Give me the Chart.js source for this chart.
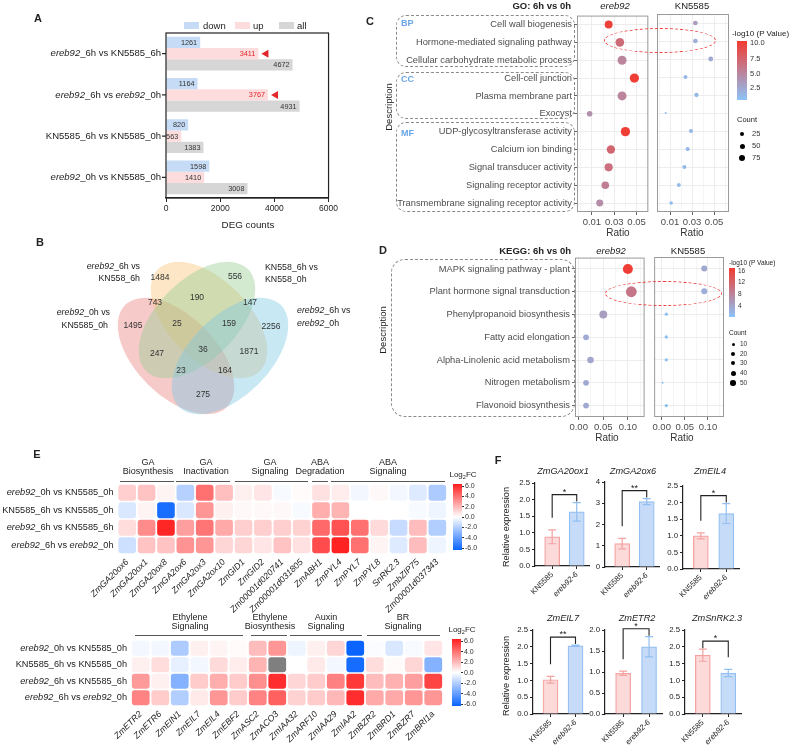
<!DOCTYPE html>
<html>
<head>
<meta charset="utf-8">
<script src="https://cdn.jsdelivr.net/npm/chart.js@4.4.1/dist/chart.umd.min.js"></script>
<style>
  body { margin: 0; background: #fff; }
  #fig { position: relative; width: 800px; height: 749px; overflow: hidden; background: #fff;
         font-family: "Liberation Sans", Arial, Helvetica, sans-serif; color: #222; }
  #fig canvas { position: absolute; }
  .t { position: absolute; white-space: nowrap; line-height: 1.05; }
  .b { font-weight: bold; }
</style>
</head>
<body>
<div id="fig"></div>
<script>
// ============================================
// DEG / GO / KEGG / heatmap / qPCR figure
// ============================================

// ---- A: DEG counts ----
const degComparisons = ["ereb92_6h vs KN5585_6h", "ereb92_6h vs ereb92_0h", "KN5585_6h vs KN5585_0h", "ereb92_0h vs KN5585_0h"];
const degDown = [1261, 1164, 820, 1598];
const degUp = [3411, 3767, 563, 1410];
const degAll = [4672, 4931, 1383, 3008];
const degMarked = [true, true, false, false];
const degTicks = [0, 2000, 4000, 6000];

// ---- B: Venn ----
const vennSets = ["ereb92_0h vs KN5585_0h", "ereb92_6h vs KN558_6h", "KN558_6h vs KN558_0h", "ereb92_6h vs ereb92_0h"];
const vennCounts = [1484, 556, 743, 190, 147, 1495, 25, 159, 2256, 247, 36, 1871, 23, 164, 275];

// ---- C: GO ----
const goTerms = ["Cell wall biogenesis", "Hormone-mediated signaling pathway", "Cellular carbohydrate metabolic process",
  "Cell-cell junction", "Plasma membrane part", "Exocyst", "UDP-glycosyltransferase activity", "Calcium ion binding",
  "Signal transducer activity", "Signaling receptor activity", "Transmembrane signaling receptor activity"];
const goRatioE = [0.025, 0.035, 0.037, 0.048, 0.037, 0.008, 0.040, 0.027, 0.025, 0.022, 0.017];
const goCountE = [59, 70, 75, 80, 75, 29, 80, 65, 62, 54, 45];
const goLogPE = [9.8, 6.8, 5.0, 10.0, 5.0, 4.2, 10.0, 7.2, 6.5, 5.5, 4.5];
const goRatioK = [0.033, 0.033, 0.047, 0.024, 0.034, 0.006, 0.029, 0.026, 0.023, 0.018, 0.011];
const goCountK = [20, 20, 22, 15, 17, 4, 16, 16, 15, 14, 12];
const goLogPK = [3.5, 2.2, 2.4, 1.3, 1.5, 1.0, 1.4, 1.4, 1.3, 1.2, 1.1];
const goTicks = [0, 0.01, 0.02, 0.03, 0.04, 0.05, 0.06];
const goTickLabels = ["", "0.01", "", "0.03", "", "0.05", ""];

// ---- D: KEGG ----
const keggTerms = ["MAPK signaling pathway - plant", "Plant hormone signal transduction", "Phenylpropanoid biosynthesis",
  "Fatty acid elongation", "Alpha-Linolenic acid metabolism", "Nitrogen metabolism", "Flavonoid biosynthesis"];
const keggRatioE = [0.100, 0.107, 0.050, 0.015, 0.024, 0.015, 0.015];
const keggCountE = [45, 52, 28, 15, 19, 15, 15];
const keggLogPE = [16.5, 10.0, 5.5, 4.0, 4.5, 4.0, 4.0];
const keggRatioK = [0.092, 0.092, 0.010, 0.010, 0.010, 0.002, 0.010];
const keggCountK = [16, 16, 5, 5, 5, 2, 5];
const keggLogPK = [4.3, 3.5, 1.5, 1.5, 1.5, 1.3, 1.5];
const keggTicks = [0, 0.025, 0.05, 0.075, 0.10, 0.125];
const keggTickLabels = ["0.00", "", "0.05", "", "0.10", ""];

// ---- E: heatmaps (log2FC) ----
const heatRows = ["ereb92_0h vs KN5585_0h", "KN5585_6h vs KN5585_0h", "ereb92_6h vs KN5585_6h", "ereb92_6h vs ereb92_0h"];
const genesTop = ["ZmGA20ox6", "ZmGA20ox1", "ZmGA20ox8", "ZmGA2ox6", "ZmGA2ox3", "ZmGA2ox10", "ZmGID1", "ZmGID2",
  "Zm00001d020741", "Zm00001d031805", "ZmABH1", "ZmPYL4", "ZmPYL7", "ZmPYL8", "SnRK2.3", "ZmbZIP75", "Zm00001d037343"];
const fcTop = [
  [1.3, 1.6, 0.3, -1.8, 3.8, 1.7, 0.4, 0.7, -0.2, 0.1, 0.8, 0.5, -0.3, 0.2, -0.3, -0.8, -2.0],
  [-0.9, 0.3, -5.6, -0.9, 2.8, 0.4, 0.2, 0.2, 0.2, -0.2, 2.2, 2.0, 0.0, 0.0, 0.0, -0.2, -0.4],
  [0.9, 3.1, 5.8, 2.6, 3.7, 2.3, 1.3, 1.3, 1.3, 1.2, 4.0, 4.6, 3.8, 1.0, -1.4, 1.8, -1.9],
  [-1.2, 1.6, 1.6, 2.9, 2.8, 1.1, 1.1, 0.7, 1.6, 0.8, 4.8, 5.9, 3.8, 0.3, -0.8, 1.8, -0.4]
];
const genesBottom = ["ZmETR2", "ZmETR6", "ZmEIN1", "ZmEIL7", "ZmEIL4", "ZmEBF2", "ZmASC2", "ZmACO3",
  "ZmIAA32", "ZmARF10", "ZmIAA29", "ZmIAA2", "ZmBZR2", "ZmBRD1", "ZmBZR7", "ZmBRI1a"];
const fcBottom = [
  [-0.3, -0.3, -2.0, 0.4, 0.3, 0.1, 1.8, 2.8, -0.4, 0.4, 1.1, -6.0, -0.1, -0.9, -0.2, 0.7],
  [0.4, 0.9, -0.6, -0.3, 1.0, 0.5, 2.0, null, 0.0, 0.6, -0.3, -5.7, 0.9, 0.1, 1.1, -3.0],
  [2.7, 0.4, -3.0, 1.4, 2.2, 1.4, 3.0, 5.6, 1.1, 1.4, 3.4, 5.3, 1.8, 2.1, 2.6, 5.0],
  [3.3, 1.4, -1.9, 0.6, 2.8, 1.4, 3.3, 4.2, 1.2, 1.4, 1.9, 5.6, 2.3, 2.3, 2.8, 2.8]
];
const fcTicks = [6, 4, 2, 0, -2, -4, -6];

// ---- F: qPCR ----
const qGenes = ["ZmGA20ox1", "ZmGA2ox6", "ZmEIL4", "ZmEIL7", "ZmETR2", "ZmSnRK2.3"];
const qGroups = ["KN5585", "ereb92-6"];
const qMeanKN = [0.88, 1.10, 1.00, 1.02, 0.97, 1.75];
const qSdKN = [0.21, 0.25, 0.09, 0.10, 0.05, 0.18];
const qMeanEr = [1.63, 3.08, 1.67, 2.03, 1.60, 1.22];
const qSdEr = [0.28, 0.14, 0.30, 0.02, 0.24, 0.11];
const qSig = ["*", "**", "*", "**", "*", "*"];
const qYMax = [2.5, 4, 2.5, 2.5, 2.0, 2.5];
const qYStep = [0.5, 1, 0.5, 0.5, 0.5, 0.5];

// ============================================
const FONT = '"Liberation Sans", Arial, Helvetica, sans-serif';
const fig = document.getElementById("fig");

Chart.defaults.font.family = FONT;
Chart.defaults.color = "#222";
Chart.defaults.animation = false;
Chart.defaults.events = [];
Chart.defaults.responsive = false;
Chart.defaults.maintainAspectRatio = false;
Chart.defaults.plugins.legend.display = false;
Chart.defaults.plugins.tooltip.enabled = false;

// scales get a fixed size so the plot area lands exactly where it should
const fitW = (w) => (s) => { s.width = w; };
const fitH = (h) => (s) => { s.height = h; };
const it = (s) => s.replace(/ereb92/g, "<i>ereb92</i>");

function makeCanvas(left, top, w, h) {
    const c = document.createElement("canvas");
    c.width = w; c.height = h;
    c.style.left = left + "px"; c.style.top = top + "px";
    c.style.width = w + "px"; c.style.height = h + "px";
    fig.appendChild(c);
    return c;
}

function txt(html, x, y, size, o = {}) {
    const d = document.createElement("div");
    d.className = "t" + (o.bold ? " b" : "");
    d.innerHTML = html;
    const ax = { left: "0", right: "-100%", center: "-50%" }[o.align || "center"];
    d.style.left = x + "px";
    d.style.top = y + "px";
    d.style.fontSize = size + "px";
    d.style.transform = `translate(${ax},-50%)` + (o.rot ? ` rotate(${o.rot}deg)` : "");
    if (o.css) d.style.cssText += o.css;
    fig.appendChild(d);
}

function rect(x, y, w, h, css) {
    const d = document.createElement("div");
    d.style.cssText = `position:absolute;left:${x}px;top:${y}px;width:${w}px;height:${h}px;box-sizing:border-box;${css}`;
    fig.appendChild(d);
}

// text with italic "ereb92"
function mixedText(ctx, text, x, y, size, align) {
    const parts = text.split(/(ereb92)/).filter(Boolean);
    const fonts = parts.map((p) => (p === "ereb92" ? "italic " : "") + size + "px " + FONT);
    const widths = parts.map((p, i) => { ctx.font = fonts[i]; return ctx.measureText(p).width; });
    const total = widths.reduce((a, b) => a + b, 0);
    let cx = align === "right" ? x - total : align === "center" ? x - total / 2 : x;
    ctx.save();
    ctx.fillStyle = "#222"; ctx.textAlign = "left"; ctx.textBaseline = "middle";
    parts.forEach((p, i) => { ctx.font = fonts[i]; ctx.fillText(p, cx, y); cx += widths[i]; });
    ctx.restore();
}

function mix(a, b, t) {
    return `rgb(${a.map((v, i) => Math.round(v + (b[i] - v) * t)).join(",")})`;
}
const P_LOW = [140, 196, 248], P_HIGH = [242, 58, 48];
function pColor(v, lo, hi) {
    return mix(P_LOW, P_HIGH, Math.max(0, Math.min(1, (v - lo) / (hi - lo))));
}
function fcColor(v) {
    if (v === null) return "#7f7f7f";
    const t = Math.min(1, Math.abs(v) / 6);
    return v >= 0 ? mix([255, 255, 255], [255, 30, 30], t) : mix([255, 255, 255], [10, 100, 255], t);
}

// ---------------- A ----------------
const degDecor = {
    id: "degDecor",
    afterDatasetsDraw(chart) {
        const { ctx, chartArea: ca, scales: { y } } = chart;
        ctx.save();
        ctx.font = "7.3px " + FONT; ctx.textAlign = "right"; ctx.textBaseline = "middle";
        chart.data.datasets.forEach((ds, di) => {
            chart.getDatasetMeta(di).data.forEach((bar, i) => {
                const mark = di === 1 && degMarked[i];
                ctx.fillStyle = mark ? "#e3262b" : "#333";
                ctx.fillText(ds.data[i], bar.x - 3, bar.y + 0.5);
                if (mark) {
                    ctx.beginPath();
                    ctx.moveTo(bar.x + 3, bar.y);
                    ctx.lineTo(bar.x + 10, bar.y - 4);
                    ctx.lineTo(bar.x + 10, bar.y + 4);
                    ctx.closePath();
                    ctx.fill();
                }
            });
        });
        ctx.strokeStyle = "#222"; ctx.lineWidth = 1.2;
        ctx.strokeRect(ca.left, ca.top, ca.width, ca.height);
        degComparisons.forEach((lab, i) => {
            const py = y.getPixelForValue(i);
            ctx.beginPath(); ctx.moveTo(ca.left - 4, py); ctx.lineTo(ca.left, py); ctx.stroke();
            mixedText(ctx, lab, ca.left - 5, py, 9.5, "right");
        });
        ctx.restore();
    }
};

new Chart(makeCanvas(0, 0, 340, 240), {
    type: "bar",
    data: {
        labels: degComparisons,
        datasets: [
            { data: degDown, backgroundColor: "#c6dcf6" },
            { data: degUp, backgroundColor: "#fcdcdc" },
            { data: degAll, backgroundColor: "#d6d6d6" }
        ].map((d) => Object.assign(d, { categoryPercentage: 0.82, barPercentage: 1 }))
    },
    options: {
        indexAxis: "y",
        layout: { padding: { left: 0, right: 9, top: 33, bottom: 0 } },
        scales: {
            x: {
                min: 0, max: 6000, afterFit: fitH(42),
                afterBuildTicks: (s) => { s.ticks = degTicks.map((v) => ({ value: v })); },
                ticks: { font: { size: 8.5 }, padding: 2, maxRotation: 0, callback: (v) => String(v) },
                grid: { drawOnChartArea: false, tickLength: 4, color: "#222" },
                border: { color: "#222", width: 1.2 }
            },
            y: { afterFit: fitW(166), ticks: { display: false }, grid: { display: false }, border: { display: false } }
        }
    },
    plugins: [degDecor]
});

txt("A", 38, 19, 11, { bold: true });
rect(184, 22, 15, 7, "background:#c6dcf6");
txt("down", 203, 25.5, 9.5, { align: "left" });
rect(235, 22, 15, 7, "background:#fcdcdc");
txt("up", 253, 25.5, 9.5, { align: "left" });
rect(279, 22, 15, 7, "background:#d6d6d6");
txt("all", 297, 25.5, 9.5, { align: "left" });
txt("DEG counts", 248, 225, 9.8);

// ---------------- B ----------------
const vennShapes = {
    a: 72, b: 40,
    ellipses: [
        { cx: 176, cy: 356, rot: 45, fill: "rgba(232,128,124,0.42)" },
        { cx: 209, cy: 320, rot: 45, fill: "rgba(248,196,120,0.42)" },
        { cx: 197, cy: 320, rot: -45, fill: "rgba(150,205,145,0.42)" },
        { cx: 230, cy: 356, rot: -45, fill: "rgba(125,200,228,0.42)" }
    ],
    labelPos: [[160, 278], [235, 277], [155, 303], [197, 298], [250, 303], [133, 326], [177, 324], [229, 324],
        [271, 327], [157, 354], [203, 350], [249, 352], [181, 371], [225, 371], [203, 395]]
};

const vennPlugin = {
    id: "venn",
    beforeDatasetsDraw(chart) {
        const { ctx, scales: { x, y } } = chart;
        ctx.save();
        vennShapes.ellipses.forEach((e) => {
            const px = x.getPixelForValue(e.cx), py = y.getPixelForValue(e.cy);
            const rx = x.getPixelForValue(e.cx + vennShapes.a) - px;
            const ry = x.getPixelForValue(e.cx + vennShapes.b) - px;
            ctx.beginPath();
            ctx.ellipse(px, py, rx, ry, e.rot * Math.PI / 180, 0, Math.PI * 2);
            ctx.fillStyle = e.fill;
            ctx.fill();
        });
        ctx.restore();
    },
    afterDatasetsDraw(chart) {
        const { ctx } = chart;
        ctx.save();
        ctx.font = "8.5px " + FONT; ctx.fillStyle = "#333";
        ctx.textAlign = "center"; ctx.textBaseline = "middle";
        chart.getDatasetMeta(0).data.forEach((pt, i) => ctx.fillText(vennCounts[i], pt.x, pt.y));
        ctx.restore();
    }
};

new Chart(makeCanvas(0, 240, 345, 210), {
    type: "scatter",
    data: { datasets: [{ data: vennShapes.labelPos.map(([x, y]) => ({ x, y })), pointRadius: 0 }] },
    options: {
        layout: { padding: 0 },
        scales: {
            x: { display: false, min: 0, max: 345 },
            y: { display: false, min: 240, max: 450, reverse: true }
        }
    },
    plugins: [vennPlugin]
});

txt("B", 40, 243, 11, { bold: true });
txt(it("ereb92_6h vs"), 140, 267, 8.8, { align: "right" });
txt("KN558_6h", 140, 279, 8.8, { align: "right" });
txt("KN558_6h vs", 265, 268, 8.8, { align: "left" });
txt("KN558_0h", 265, 280, 8.8, { align: "left" });
txt(it("ereb92_0h vs"), 110, 313, 8.8, { align: "right" });
txt("KN5585_0h", 108, 326, 8.8, { align: "right" });
txt(it("ereb92_6h vs"), 297, 311, 8.8, { align: "left" });
txt(it("ereb92_0h"), 297, 324, 8.8, { align: "left" });

// ---------------- C / D dot plots ----------------
const panelBox = {
    id: "panelBox",
    afterDraw(chart) {
        const { ctx, chartArea: ca } = chart;
        ctx.save();
        ctx.strokeStyle = "#9a9a9a"; ctx.lineWidth = 1;
        ctx.strokeRect(ca.left + 0.5, ca.top + 0.5, ca.width - 1, ca.height - 1);
        ctx.restore();
    }
};

function dotPanel(o) {
    return new Chart(makeCanvas(o.left, o.top, o.w, o.h), {
        type: "bubble",
        data: {
            datasets: [{
                data: o.ratio.map((x, i) => ({ x, y: i + 1, r: Math.sqrt(o.count[i]) * o.rK })),
                backgroundColor: o.logp.map((v) => pColor(v, o.cLo, o.cHi)),
                borderWidth: 0
            }]
        },
        options: {
            layout: { padding: { left: 0, right: o.pad.right, top: o.pad.top, bottom: 0 } },
            scales: {
                x: {
                    type: "linear", min: o.xmin, max: o.xmax, afterFit: fitH(o.pad.bottom),
                    afterBuildTicks: (s) => { s.ticks = o.xTicks.map((v) => ({ value: v })); },
                    ticks: { callback: (v, i) => o.xLabels[i], font: { size: 9.5 }, color: "#4d4d4d", padding: 2, maxRotation: 0, autoSkip: false },
                    grid: {
                        color: "#ebebeb",
                        lineWidth: (c) => (o.xLabels[c.index] ? 0.9 : 0.5),
                        tickColor: (c) => (o.xLabels[c.index] ? "#555" : "rgba(0,0,0,0)"),
                        tickLength: 3
                    },
                    border: { display: false }
                },
                y: {
                    type: "linear", min: 0.5, max: o.terms.length + 0.5, reverse: true, afterFit: fitW(o.pad.left),
                    afterBuildTicks: (s) => { s.ticks = o.terms.map((_, i) => ({ value: i + 1 })); },
                    ticks: { display: o.showY, callback: (v, i) => o.terms[i], font: { size: 9.3 }, color: "#4d4d4d", padding: 2, autoSkip: false },
                    grid: { color: "#ebebeb", lineWidth: 0.9, drawTicks: o.showY, tickColor: "#555", tickLength: 3 },
                    border: { display: false }
                }
            }
        },
        plugins: [panelBox]
    });
}

// C
dotPanel({ left: 390, top: 8, w: 263, h: 232, pad: { left: 187, right: 0, top: 6, bottom: 28 },
    terms: goTerms, ratio: goRatioE, count: goCountE, logp: goLogPE, rK: 0.52, cLo: 0.6, cHi: 10.3,
    xmin: -0.0033, xmax: 0.0605, xTicks: goTicks, xLabels: goTickLabels, showY: true });
dotPanel({ left: 653, top: 8, w: 80, h: 232, pad: { left: 0, right: 3, top: 6, bottom: 28 },
    terms: goTerms, ratio: goRatioK, count: goCountK, logp: goLogPK, rK: 0.52, cLo: 0.6, cHi: 10.3,
    xmin: -0.0019, xmax: 0.0636, xTicks: goTicks, xLabels: goTickLabels, showY: false });

// D
dotPanel({ left: 385, top: 250, w: 265, h: 195, pad: { left: 190, right: 0, top: 7, bottom: 28 },
    terms: keggTerms, ratio: keggRatioE, count: keggCountE, logp: keggLogPE, rK: 0.75, cLo: 1, cHi: 17,
    xmin: -0.0075, xmax: 0.134, xTicks: keggTicks, xLabels: keggTickLabels, showY: true });
dotPanel({ left: 650, top: 250, w: 78, h: 195, pad: { left: 0, right: 4, top: 7, bottom: 28 },
    terms: keggTerms, ratio: keggRatioK, count: keggCountK, logp: keggLogPK, rK: 0.75, cLo: 1, cHi: 17,
    xmin: -0.0163, xmax: 0.1347, xTicks: keggTicks, xLabels: keggTickLabels, showY: false });

// C decorations
txt("C", 370, 22, 11, { bold: true });
txt("GO: 6h vs 0h", 571, 6, 9.5, { align: "right", bold: true });
txt("<i>ereb92</i>", 615, 6, 9.5);
txt("KN5585", 692, 6, 9.5);
txt("Description", 389, 107, 9.5, { rot: -90 });
txt("Ratio", 618, 233, 10, { css: "color:#333" });
txt("Ratio", 692, 233, 10, { css: "color:#333" });
rect(396, 15, 179, 52, "border:1.2px dashed #8a8a8a;border-radius:10px");
rect(396, 72, 179, 47, "border:1.2px dashed #8a8a8a;border-radius:10px");
rect(396, 122, 179, 90, "border:1.2px dashed #8a8a8a;border-radius:10px");
txt("BP", 401, 24, 9, { align: "left", bold: true, css: "color:#6aa6e6" });
txt("CC", 401, 80, 9, { align: "left", bold: true, css: "color:#6aa6e6" });
txt("MF", 401, 134, 9, { align: "left", bold: true, css: "color:#6aa6e6" });
rect(604, 28, 112, 25, "border:1.2px dashed #f03a3a;border-radius:50%");
txt("-log10 (P Value)", 732, 34, 8, { align: "left" });
rect(737, 41, 10, 59, `background:linear-gradient(to top, ${mix(P_LOW, P_HIGH, 0)}, ${mix(P_LOW, P_HIGH, 0.5)}, ${mix(P_LOW, P_HIGH, 1)})`);
[["10.0", 43], ["7.5", 59], ["5.0", 74], ["2.5", 88]].forEach(([s, y]) => txt(s, 750, y, 7.5, { align: "left", css: "color:#333" }));
txt("Count", 737, 120, 7.5, { align: "left" });
[["25", 134, 4], ["50", 146, 5], ["75", 158, 6]].forEach(([s, y, d]) => {
    rect(742 - d / 2, y - d / 2, d, d, "background:#000;border-radius:50%");
    txt(s, 752, y, 7.5, { align: "left", css: "color:#333" });
});

// D decorations
txt("D", 383, 251, 11, { bold: true });
txt("KEGG: 6h vs 0h", 571, 251, 9.5, { align: "right", bold: true });
txt("<i>ereb92</i>", 611, 251, 9.5);
txt("KN5585", 688, 251, 9.5);
txt("Description", 383, 330, 9.5, { rot: -90 });
txt("Ratio", 607, 438, 10, { css: "color:#333" });
txt("Ratio", 682, 438, 10, { css: "color:#333" });
rect(391, 259, 184, 158, "border:1.2px dashed #8a8a8a;border-radius:14px");
rect(605, 281, 117, 25, "border:1.2px dashed #f03a3a;border-radius:50%");
txt("-log10 (P Value)", 729, 263, 6.5, { align: "left" });
rect(729, 268, 6, 49, `background:linear-gradient(to top, ${mix(P_LOW, P_HIGH, 0)}, ${mix(P_LOW, P_HIGH, 0.5)}, ${mix(P_LOW, P_HIGH, 1)})`);
[["16", 271], ["12", 282], ["8", 294], ["4", 306]].forEach(([s, y]) => txt(s, 738, y, 6.5, { align: "left", css: "color:#333" }));
txt("Count", 729, 333, 6.5, { align: "left" });
[["10", 344, 3], ["20", 354, 4], ["30", 363, 4.5], ["40", 373, 5], ["50", 383, 5.5]].forEach(([s, y, d]) => {
    rect(733 - d / 2, y - d / 2, d, d, "background:#000;border-radius:50%");
    txt(s, 740, y, 6.5, { align: "left", css: "color:#333" });
});

// ---------------- E heatmaps ----------------
const rowLabels = {
    id: "rowLabels",
    afterDraw(chart) {
        const { ctx, chartArea: ca, scales: { y } } = chart;
        heatRows.forEach((lab, i) => mixedText(ctx, lab, ca.left - 4, y.getPixelForValue(i + 0.5), 9.2, "right"));
    }
};

function heatmap(canvas, pad, genes, rows) {
    return new Chart(canvas, {
        type: "bar",
        data: {
            labels: genes,
            datasets: rows.map((vals, r) => ({
                data: genes.map(() => [r, r + 1]),
                backgroundColor: vals.map(fcColor),
                borderColor: "#fff",
                borderWidth: 1.2,
                borderRadius: { topLeft: 4, topRight: 4, bottomLeft: 4, bottomRight: 4 },
                borderSkipped: false,
                grouped: false,
                barPercentage: 1,
                categoryPercentage: 1
            }))
        },
        options: {
            layout: { padding: { left: pad.left, right: pad.right, top: pad.top, bottom: 0 } },
            scales: {
                x: {
                    afterFit: fitH(pad.bottom),
                    ticks: { minRotation: 45, maxRotation: 45, autoSkip: false, font: { size: 8.8, style: "italic" }, padding: 3 },
                    grid: { display: false, drawTicks: false },
                    border: { display: false }
                },
                y: { display: false, min: 0, max: rows.length, reverse: true }
            }
        },
        plugins: [rowLabels]
    });
}

heatmap(makeCanvas(0, 478, 452, 142), { left: 117.5, right: 5, top: 6, bottom: 66 }, genesTop, fcTop);
heatmap(makeCanvas(0, 634, 450, 115), { left: 131, right: 7, top: 6, bottom: 43 }, genesBottom, fcBottom);

txt("E", 37, 455, 11, { bold: true });
[["GA<br>Biosynthesis", 148], ["GA<br>Inactivation", 206], ["GA<br>Signaling", 270], ["ABA<br>Degradation", 320], ["ABA<br>Signaling", 388]]
    .forEach(([s, x]) => txt(s, x, 467, 9, { css: "text-align:center" }));
[[120, 174], [176, 230], [235, 308], [312, 328], [331, 445]].forEach(([a, b]) => rect(a, 481, b - a, 1, "background:#555"));
[["Ethylene<br>Signaling", 190], ["Ethylene<br>Biosynthesis", 270], ["Auxin<br>Signaling", 326], ["BR<br>Signaling", 403]]
    .forEach(([s, x]) => txt(s, x, 622, 9, { css: "text-align:center" }));
[[135, 243], [251, 287], [290, 362], [367, 440]].forEach(([a, b]) => rect(a, 635, b - a, 1, "background:#555"));

function fcLegend(x, yTop, yBot, titleY) {
    txt("Log<sub style='font-size:5.5px'>2</sub>FC", x + 10, titleY, 8);
    rect(x, yTop - 2, 9, yBot - yTop + 4, "background:linear-gradient(to bottom, rgb(255,30,30), #fff, rgb(10,100,255))");
    fcTicks.forEach((v, i) => {
        const y = yTop + (yBot - yTop) * i / (fcTicks.length - 1);
        rect(x + 9, y - 0.5, 2, 1, "background:#333");
        txt(v.toFixed(1), x + 12, y, 7, { align: "left", css: "color:#333" });
    });
}
fcLegend(453, 486, 548, 476);
fcLegend(452, 641, 704, 631);

// ---------------- F qPCR bars ----------------
const qpcrDecor = {
    id: "qpcrDecor",
    afterDatasetsDraw(chart, args, o) {
        const { ctx, scales: { y } } = chart;
        const pts = chart.getDatasetMeta(0).data.map((bar, i) => ({
            x: bar.x,
            top: y.getPixelForValue(o.means[i] + o.sds[i]),
            bot: y.getPixelForValue(o.means[i] - o.sds[i]),
            color: o.colors[i]
        }));
        ctx.save();
        ctx.lineWidth = 1.2;
        pts.forEach((p) => {
            ctx.strokeStyle = p.color;
            ctx.beginPath();
            ctx.moveTo(p.x, p.top); ctx.lineTo(p.x, p.bot);
            ctx.moveTo(p.x - 4, p.top); ctx.lineTo(p.x + 4, p.top);
            ctx.moveTo(p.x - 4, p.bot); ctx.lineTo(p.x + 4, p.bot);
            ctx.stroke();
        });
        const hi = Math.min(pts[0].top, pts[1].top);
        const topY = hi - 8;
        const leg = (p) => (p.top === hi ? p.top - 1 : Math.max(topY + 6, p.top - 12));
        ctx.strokeStyle = "#222"; ctx.lineWidth = 1.1;
        ctx.beginPath();
        ctx.moveTo(pts[0].x, leg(pts[0])); ctx.lineTo(pts[0].x, topY);
        ctx.lineTo(pts[1].x, topY); ctx.lineTo(pts[1].x, leg(pts[1]));
        ctx.stroke();
        ctx.fillStyle = "#222"; ctx.font = "9px " + FONT;
        ctx.textAlign = "center"; ctx.textBaseline = "bottom";
        ctx.fillText(o.star, (pts[0].x + pts[1].x) / 2, topY + 2);
        ctx.restore();
    }
};

const qLayout = [
    { axisX: 535, top: 483, bottom: 566, w: 54, titleX: 563, titleY: 472 },
    { axisX: 605, top: 482, bottom: 567, w: 54, titleX: 633, titleY: 472 },
    { axisX: 683, top: 486, bottom: 569, w: 56, titleX: 710, titleY: 472 },
    { axisX: 533, top: 630, bottom: 714, w: 55, titleX: 563, titleY: 619 },
    { axisX: 605, top: 630, bottom: 714, w: 57, titleX: 637, titleY: 619 },
    { axisX: 685, top: 630, bottom: 714, w: 56, titleX: 717, titleY: 619 }
];
const qFill = ["rgba(252,214,214,0.9)", "#c6dbf7"];
const qLine = ["#f4a3a3", "#92bff2"];

qGenes.forEach((g, i) => {
    const L = qLayout[i];
    const cw = 30 + L.w + 8, ch = L.bottom - L.top + 12 + 45;
    new Chart(makeCanvas(L.axisX - 30, L.top - 12, cw, ch), {
        type: "bar",
        data: {
            datasets: [{
                data: [{ x: 1, y: qMeanKN[i] }, { x: 2, y: qMeanEr[i] }],
                backgroundColor: qFill, borderColor: qLine, borderWidth: 1.2, barThickness: 15
            }]
        },
        options: {
            layout: { padding: { left: 0, right: 8, top: 12, bottom: 0 } },
            scales: {
                x: {
                    type: "linear", min: 0.3, max: 2.5, offset: false, afterFit: fitH(45),
                    afterBuildTicks: (s) => { s.ticks = [{ value: 1 }, { value: 2 }]; },
                    ticks: {
                        callback: (v, k) => qGroups[k], minRotation: 45, maxRotation: 45, autoSkip: false, padding: 1,
                        font: (c) => ({ size: 7.8, style: c.index === 1 ? "italic" : "normal" })
                    },
                    grid: { drawOnChartArea: false, offset: false, tickLength: 3, color: "#222" },
                    border: { color: "#222", width: 1.2 }
                },
                y: {
                    min: 0, max: qYMax[i], afterFit: fitW(30),
                    ticks: { stepSize: qYStep[i], font: { size: 7.8 }, padding: 2, callback: (v) => (qYStep[i] >= 1 ? v : v.toFixed(1)) },
                    grid: { drawOnChartArea: false, tickLength: 3, color: "#222" },
                    border: { color: "#222", width: 1.2 }
                }
            },
            plugins: {
                qpcrDecor: { means: [qMeanKN[i], qMeanEr[i]], sds: [qSdKN[i], qSdEr[i]], colors: qLine, star: qSig[i] }
            }
        },
        plugins: [qpcrDecor]
    });
    txt("<i>" + g + "</i>", L.titleX, L.titleY, 9.2);
});

txt("F", 498, 461, 11, { bold: true });
txt("Relative expression", 507, 527, 9.2, { rot: -90 });
txt("Relative expression", 507, 676, 9.2, { rot: -90 });
</script>
</body>
</html>
